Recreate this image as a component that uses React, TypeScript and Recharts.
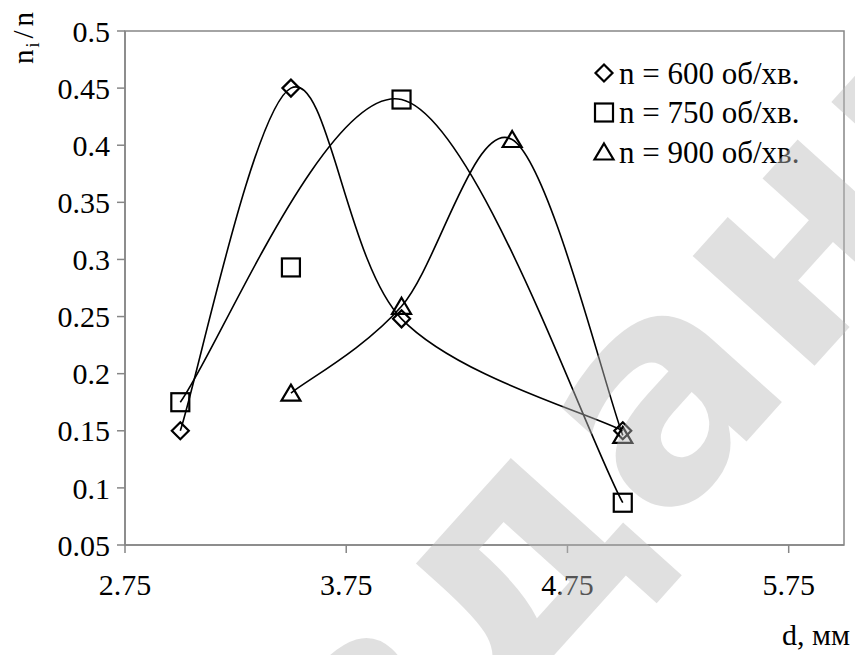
import React from 'react';
import { ComposedChart, Line, Scatter, XAxis, YAxis, ReferenceArea } from 'recharts';

// d, мм
const dValues = [3.0, 3.5, 4.0, 4.5, 5.0];
// n_i / n for each speed (null = no measurement)
const n600 = [0.15, 0.45, 0.248, null, 0.15];
const n750 = [0.175, 0.293, 0.44, null, 0.087];
const n900 = [null, 0.183, 0.259, 0.405, 0.146];
// the smoothed 750 curve in the source passes by this point
const n750CurveSkip = [3.5];

const xTicks = [2.75, 3.75, 4.75, 5.75];
const yTicks = [0.05, 0.1, 0.15, 0.2, 0.25, 0.3, 0.35, 0.4, 0.45, 0.5];
const seriesNames = ['n = 600 об/хв.', 'n = 750 об/хв.', 'n = 900 об/хв.'];

const FONT = 'Liberation Serif, Tinos, Times New Roman, DejaVu Serif, serif';
const AXIS = '#868686';

const toPoints = (vals: (number | null)[], skip: number[] = []) =>
  dValues
    .map((d, i) => ({ d, v: vals[i] }))
    .filter(p => p.v !== null && !skip.includes(p.d));

// Excel-like smoothed line (Catmull-Rom as cubic bezier)
const excelSmooth = (context: any) => {
  let pts: number[][] = [];
  return {
    areaStart() {},
    areaEnd() {},
    lineStart() { pts = []; },
    point(x: number, y: number) { pts.push([+x, +y]); },
    lineEnd() {
      const n = pts.length;
      if (!n) return;
      context.moveTo(pts[0][0], pts[0][1]);
      for (let i = 0; i < n - 1; i++) {
        const p0 = pts[i > 0 ? i - 1 : i];
        const p1 = pts[i];
        const p2 = pts[i + 1];
        const p3 = pts[i + 2 < n ? i + 2 : i + 1];
        context.bezierCurveTo(
          p1[0] + (p2[0] - p0[0]) / 6, p1[1] + (p2[1] - p0[1]) / 6,
          p2[0] - (p3[0] - p1[0]) / 6, p2[1] - (p3[1] - p1[1]) / 6,
          p2[0], p2[1]
        );
      }
    },
  };
};

const Diamond = ({ cx, cy, s = 8.5 }: any) => (
  <path d={`M${cx},${cy - s}L${cx + s},${cy}L${cx},${cy + s}L${cx - s},${cy}Z`} fill="none" stroke="#000" strokeWidth={2.2} />
);
const Square = ({ cx, cy, s = 9 }: any) => (
  <rect x={cx - s} y={cy - s} width={2 * s} height={2 * s} fill="none" stroke="#000" strokeWidth={2.2} />
);
const Triangle = ({ cx, cy, s = 9.5 }: any) => (
  <path d={`M${cx},${cy - 8.5}L${cx + s},${cy + 7.5}L${cx - s},${cy + 7.5}Z`} fill="none" stroke="#000" strokeWidth={2.2} />
);

const markers = [Diamond, Square, Triangle];

const XTick = ({ x, y, payload }: any) => (
  <text x={x} y={y} dy="0.71em" textAnchor="middle" style={{ fontFamily: FONT, fontSize: 30 }} fill="#000">
    {payload.value}
  </text>
);
const YTick = ({ x, y, payload }: any) => (
  <text x={x} y={y} dy="0.355em" textAnchor="end" style={{ fontFamily: FONT, fontSize: 30 }} fill="#000">
    {payload.value}
  </text>
);

const App = () => {
  const p600 = toPoints(n600);
  const p750 = toPoints(n750);
  const p900 = toPoints(n900);
  const c750 = toPoints(n750, n750CurveSkip);
  const txt = { fontFamily: FONT, fill: '#000' };

  return (
    <div style={{ position: 'absolute', left: 0, top: 0, width: 855, height: 655, background: '#fff', fontFamily: FONT }}>
      <ComposedChart width={855} height={655} margin={{ top: 31, right: 11, left: 0, bottom: 0 }}>
        <XAxis
          dataKey="d"
          type="number"
          domain={[2.75, 6]}
          ticks={xTicks}
          allowDataOverflow
          height={110}
          tickSize={8}
          tickMargin={21}
          axisLine={{ stroke: AXIS, strokeWidth: 1.5 }}
          tickLine={{ stroke: AXIS, strokeWidth: 1.5 }}
          tick={<XTick />}
        />
        <YAxis
          dataKey="v"
          type="number"
          domain={[0.05, 0.5]}
          ticks={yTicks}
          allowDataOverflow
          width={125}
          tickSize={8}
          tickMargin={7}
          axisLine={{ stroke: AXIS, strokeWidth: 1.5 }}
          tickLine={{ stroke: AXIS, strokeWidth: 1.5 }}
          tick={<YTick />}
        />
        <ReferenceArea x1={2.75} x2={6} y1={0.05} y2={0.5} fill="none" stroke={AXIS} strokeWidth={1.5} />
        <Line data={p600} dataKey="v" type={excelSmooth as any} stroke="#000" strokeWidth={1.6} dot={false} activeDot={false} isAnimationActive={false} />
        <Line data={c750} dataKey="v" type={excelSmooth as any} stroke="#000" strokeWidth={1.6} dot={false} activeDot={false} isAnimationActive={false} />
        <Line data={p900} dataKey="v" type={excelSmooth as any} stroke="#000" strokeWidth={1.6} dot={false} activeDot={false} isAnimationActive={false} />
        <Scatter data={p600} dataKey="v" shape={(p: any) => <Diamond cx={p.cx} cy={p.cy} />} isAnimationActive={false} />
        <Scatter data={p750} dataKey="v" shape={(p: any) => <Square cx={p.cx} cy={p.cy} />} isAnimationActive={false} />
        <Scatter data={p900} dataKey="v" shape={(p: any) => <Triangle cx={p.cx} cy={p.cy} />} isAnimationActive={false} />
      </ComposedChart>

      <svg width={855} height={655} style={{ position: 'absolute', left: 0, top: 0, pointerEvents: 'none' }}>
        <text transform="translate(33, 64) rotate(-90)" style={{ ...txt, fontSize: 29 }}>
          <tspan>n</tspan>
          <tspan dx={2} dy={6} style={{ fontSize: 18 }}>i</tspan>
          <tspan dx={4} dy={-6}>/</tspan>
          <tspan dx={4}>n</tspan>
        </text>
        <text x={850} y={645} textAnchor="end" style={{ ...txt, fontSize: 30 }}>d, мм</text>

        {seriesNames.map((name, i) => {
          const M = markers[i];
          const cy = 73 + i * 39.5;
          return (
            <g key={name}>
              <M cx={604} cy={cy} />
              <text x={619} y={cy + 10.5} style={{ ...txt, fontSize: 31 }}>{name}</text>
            </g>
          );
        })}

        <text
          transform="translate(728, 462) rotate(-48)"
          textAnchor="middle"
          style={{ fontFamily: 'DejaVu Sans, sans-serif', fontWeight: 'bold', fontSize: 300 }}
          fill="#bbbbbb"
          fillOpacity={0.45}
        >
          издание
        </text>
      </svg>
    </div>
  );
};

export default App;
